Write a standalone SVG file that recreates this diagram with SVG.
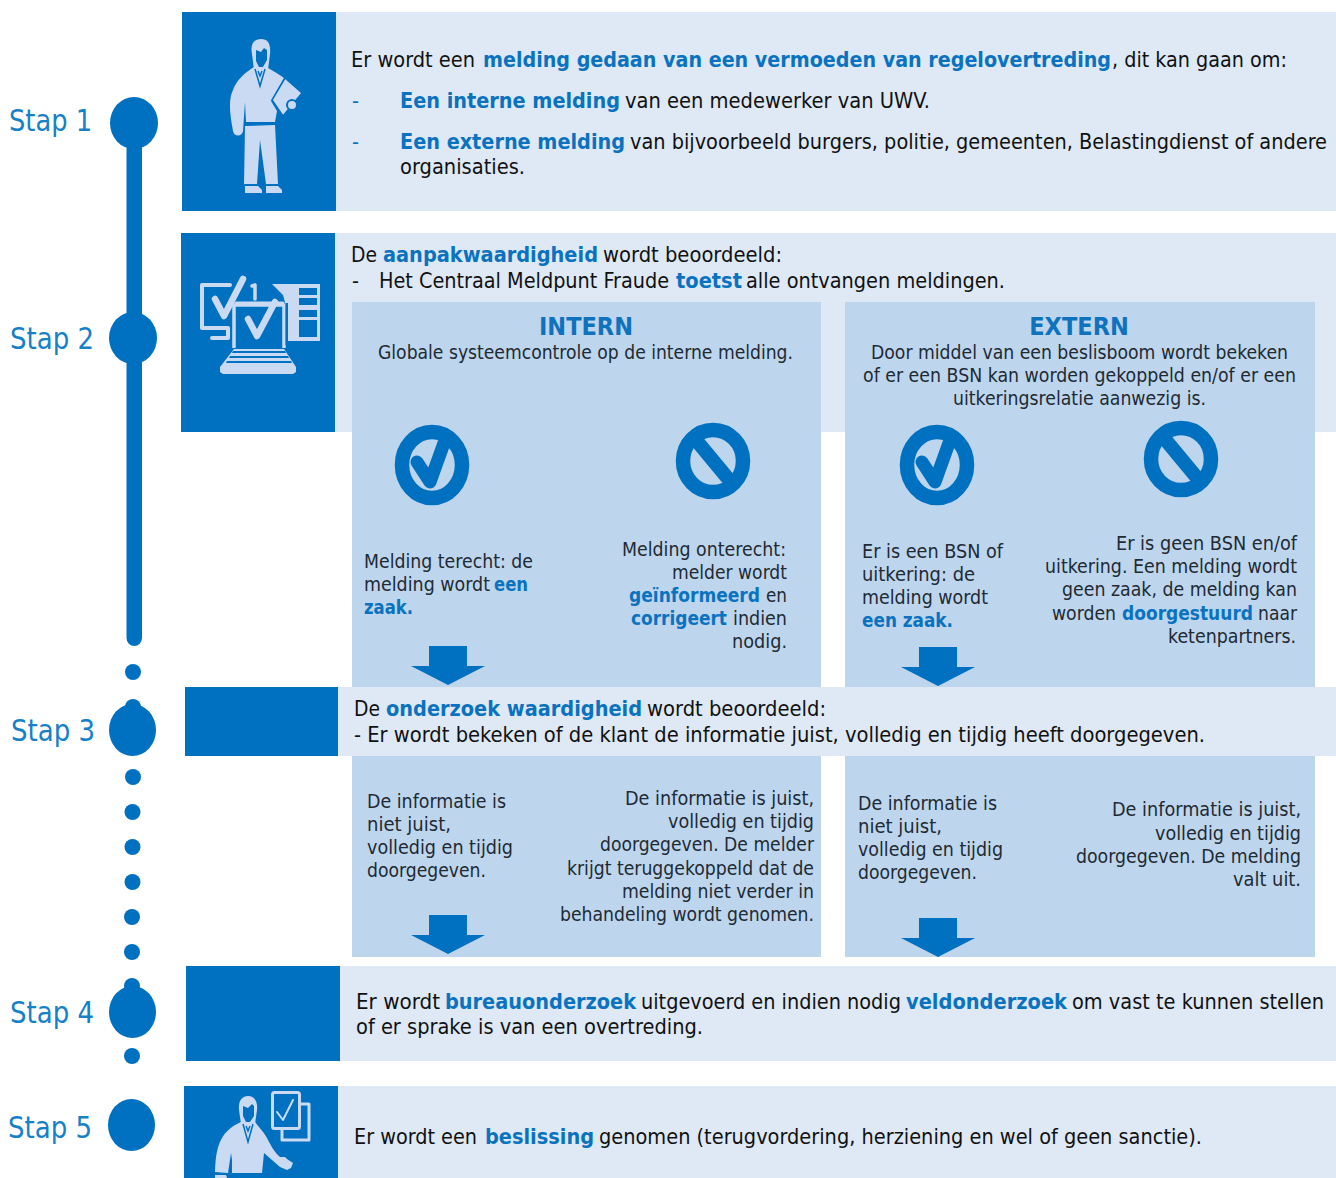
<svg xmlns="http://www.w3.org/2000/svg" width="1336" height="1178" viewBox="0 0 1336 1178">
<style>
text{font-family:"DejaVu Sans Condensed","DejaVu Sans","Liberation Sans",sans-serif;fill:#111;font-size:21.500px}
.p text{font-size:19.500px;fill:#1f2a33}
text.b,.p text.b{font-weight:700;fill:#0a72bf}
.p text.h{font-weight:700;font-size:25px;fill:#0f72bd;text-anchor:middle}
text.s{font-size:30px;fill:#1680c8}
.d{fill:#0070c0}.l{fill:#dee9f5}.m{fill:#bdd6ee}.i{fill:#cbdaf3}
.is{fill:none;stroke:#cbdaf3;stroke-linecap:round;stroke-linejoin:round}
.t{fill:none;stroke:#0070c0;stroke-width:1.500}
.ring{fill:none;stroke:#0070c0;stroke-width:14.500}
.mk{fill:none;stroke:#0070c0;stroke-width:13;stroke-linecap:round;stroke-linejoin:round}
</style>
<defs>
<g id="check"><ellipse class="ring" rx="30" ry="33"/><path class="mk" d="M-15-3L-2 17L12-22"/></g>
<g id="no"><ellipse class="ring" rx="30" ry="31"/><path d="M-17-21L17 20" fill="none" stroke="#0070c0" stroke-width="14"/></g>
<path id="arrow" class="d" d="M-19 0H19V20H37L0 39L-37 20H-19Z"/>
</defs>

<g id="connectors">
<rect class="d" x="126.500" y="140" width="15.500" height="506" rx="8"/>
<circle class="d" cx="133" cy="672" r="8"/><circle class="d" cx="133" cy="707" r="8"/>
<circle class="d" cx="133" cy="777" r="8"/><circle class="d" cx="132.500" cy="812" r="8"/><circle class="d" cx="132.500" cy="847" r="8"/><circle class="d" cx="132.500" cy="882" r="8"/><circle class="d" cx="132" cy="917" r="8"/><circle class="d" cx="132" cy="952" r="8"/><circle class="d" cx="132" cy="986" r="8"/><circle class="d" cx="132" cy="1056" r="8"/>
</g>

<g id="stap1"><text class="s" x="9" y="131" textLength="83" lengthAdjust="spacingAndGlyphs">Stap 1</text><ellipse class="d" cx="134" cy="123" rx="24" ry="26"/></g>
<g id="stap2"><text class="s" x="10" y="349" textLength="84" lengthAdjust="spacingAndGlyphs">Stap 2</text><ellipse class="d" cx="133" cy="338" rx="24" ry="26"/></g>
<g id="stap3"><text class="s" x="11" y="741" textLength="84" lengthAdjust="spacingAndGlyphs">Stap 3</text><ellipse class="d" cx="132.500" cy="730" rx="23.500" ry="26"/></g>
<g id="stap4"><text class="s" x="10" y="1023" textLength="84" lengthAdjust="spacingAndGlyphs">Stap 4</text><ellipse class="d" cx="132.500" cy="1012" rx="23.500" ry="26"/></g>
<g id="stap5"><text class="s" x="8" y="1138" textLength="84" lengthAdjust="spacingAndGlyphs">Stap 5</text><ellipse class="d" cx="131.500" cy="1125" rx="23.500" ry="26"/></g>

<g id="panel-2-bg"><rect class="l" x="335" y="233" width="1001" height="199"/><rect class="d" x="181" y="233" width="154" height="199"/></g>
<g id="panel-intern"><rect class="m" x="352" y="302" width="469" height="385"/><rect class="m" x="352" y="756" width="469" height="201"/></g>
<g id="panel-extern"><rect class="m" x="845" y="302" width="470" height="385"/><rect class="m" x="845" y="756" width="470" height="201"/></g>

<g id="node1">
<rect class="l" x="336" y="12" width="1000" height="199"/><rect class="d" x="182" y="12" width="154" height="199"/>
<g id="icon-person">
<path class="i" d="M252 54C250 44 254 39 261 39C268 39 271 44 270 54L268 70H254Z"/>
<path class="d" d="M256 50L261 52L264 48L267 50L267 60L263 67L259 67L256 61Z"/>
<path class="i" d="M254 67H266C273 71 279 74 284 78L271 101L277 111L275 122L246 122L245 102L243 131C242 137 234 137 233 131C230 115 228 100 233 90C237 79 246 72 254 67Z"/>
<path class="t" d="M255 69L260 86L265 69M258 71L260 76L262 71"/>
<path class="i" d="M245 126L275 125L278 184L266 184L260 140L257 184L244 184Z"/>
<path class="i" d="M245 186H258L262 190V193H245ZM266 186H278L282 190V193H266Z"/>
<path class="i" d="M285 78L302 93L283 116L272 100Z" stroke="#0070c0" stroke-width="1.500"/>
<circle cx="292" cy="105" r="5" fill="#cbdaf3" stroke="#0070c0" stroke-width="2"/>
</g>
<text x="351" y="67" textLength="124" lengthAdjust="spacingAndGlyphs">Er wordt een</text>
<text class="b" x="483" y="67" textLength="628" lengthAdjust="spacingAndGlyphs">melding gedaan van een vermoeden van regelovertreding</text>
<text x="1112" y="67" textLength="175" lengthAdjust="spacingAndGlyphs">, dit kan gaan om:</text>
<text class="b" x="352" y="108" style="font-weight:400">-</text>
<text class="b" x="400" y="108" textLength="220" lengthAdjust="spacingAndGlyphs">Een interne melding</text>
<text x="625" y="108" textLength="305" lengthAdjust="spacingAndGlyphs">van een medewerker van UWV.</text>
<text class="b" x="352" y="149" style="font-weight:400">-</text>
<text class="b" x="400" y="149" textLength="225" lengthAdjust="spacingAndGlyphs">Een externe melding</text>
<text x="630" y="149" textLength="697" lengthAdjust="spacingAndGlyphs">van bijvoorbeeld burgers, politie, gemeenten, Belastingdienst of andere</text>
<text x="400" y="174" textLength="125" lengthAdjust="spacingAndGlyphs">organisaties.</text>
</g>

<g id="node2">
<g id="icon-check-computer">
<path class="is" stroke-width="4" d="M230 285H202V328H228M228 328V338H212"/>
<path class="is" stroke-width="6.500" d="M215 299L224 316L243 279"/>
<path class="is" stroke-width="3.500" d="M252 286L255 285V299"/>
<path class="is" stroke-width="3" d="M236 303H283"/>
<path class="i" d="M272 284H320V341H287V310L283 295Z"/>
<path class="d" d="M299 288H317V295H299ZM299 298H317V305H299ZM299 310H317V317H299ZM299 320H317V337H299Z"/>
<path class="is" stroke-width="3.500" d="M234 348V305H284V348" style="stroke-linecap:butt"/>
<path class="d" d="M285.500 303H288V345H285.500Z"/>
<path class="is" stroke-width="6.500" d="M248 319L257 336L275 302"/>
<path class="i" d="M234 349H284L296 367V372L293 374H223L220 372V367Z"/>
<path class="d" d="M233 351H285L286 353H232ZM230 356H288L289 358H229ZM227 361H291L292 363H226Z"/>
</g>
<text x="351" y="262" textLength="26" lengthAdjust="spacingAndGlyphs">De</text>
<text class="b" x="383" y="262" textLength="215" lengthAdjust="spacingAndGlyphs">aanpakwaardigheid</text>
<text x="603" y="262" textLength="179" lengthAdjust="spacingAndGlyphs">wordt beoordeeld:</text>
<text x="352" y="288">-</text>
<text x="379" y="288" textLength="290" lengthAdjust="spacingAndGlyphs">Het Centraal Meldpunt Fraude</text>
<text class="b" x="676" y="288" textLength="66" lengthAdjust="spacingAndGlyphs">toetst</text>
<text x="746" y="288" textLength="259" lengthAdjust="spacingAndGlyphs">alle ontvangen meldingen.</text>
</g>

<g id="intern" class="p">
<text class="h" x="586" y="335">INTERN</text>
<text x="378" y="359" textLength="415" lengthAdjust="spacingAndGlyphs">Globale systeemcontrole op de interne melding.</text>
<use href="#check" x="432" y="465"/><use href="#no" x="713" y="461"/>
<text x="364" y="568" textLength="169" lengthAdjust="spacingAndGlyphs">Melding terecht: de</text>
<text x="364" y="591" textLength="126" lengthAdjust="spacingAndGlyphs">melding wordt</text>
<text class="b" x="494" y="591" textLength="34" lengthAdjust="spacingAndGlyphs">een</text>
<text class="b" x="364" y="614" textLength="49" lengthAdjust="spacingAndGlyphs">zaak.</text>
<text x="622" y="556" textLength="164" lengthAdjust="spacingAndGlyphs">Melding onterecht:</text>
<text x="672" y="579" textLength="115" lengthAdjust="spacingAndGlyphs">melder wordt</text>
<text class="b" x="629" y="602" textLength="131" lengthAdjust="spacingAndGlyphs">geïnformeerd</text>
<text x="766" y="602" textLength="21" lengthAdjust="spacingAndGlyphs">en</text>
<text class="b" x="631" y="625" textLength="96" lengthAdjust="spacingAndGlyphs">corrigeert</text>
<text x="733" y="625" textLength="54" lengthAdjust="spacingAndGlyphs">indien</text>
<text x="732" y="648" textLength="55" lengthAdjust="spacingAndGlyphs">nodig.</text>
<use href="#arrow" x="448" y="646"/>
</g>

<g id="extern" class="p">
<text class="h" x="1079" y="335">EXTERN</text>
<text x="871" y="359" textLength="417" lengthAdjust="spacingAndGlyphs">Door middel van een beslisboom wordt bekeken</text>
<text x="863" y="382" textLength="433" lengthAdjust="spacingAndGlyphs">of er een BSN kan worden gekoppeld en/of er een</text>
<text x="953" y="405" textLength="253" lengthAdjust="spacingAndGlyphs">uitkeringsrelatie aanwezig is.</text>
<use href="#check" x="937" y="465"/><use href="#no" x="1181" y="459"/>
<text x="862" y="558" textLength="141" lengthAdjust="spacingAndGlyphs">Er is een BSN of</text>
<text x="862" y="581" textLength="113" lengthAdjust="spacingAndGlyphs">uitkering: de</text>
<text x="862" y="604" textLength="126" lengthAdjust="spacingAndGlyphs">melding wordt</text>
<text class="b" x="862" y="627" textLength="91" lengthAdjust="spacingAndGlyphs">een zaak.</text>
<text x="1116" y="550" textLength="181" lengthAdjust="spacingAndGlyphs">Er is geen BSN en/of</text>
<text x="1045" y="573" textLength="252" lengthAdjust="spacingAndGlyphs">uitkering. Een melding wordt</text>
<text x="1062" y="596" textLength="235" lengthAdjust="spacingAndGlyphs">geen zaak, de melding kan</text>
<text x="1052" y="620" textLength="64" lengthAdjust="spacingAndGlyphs">worden</text>
<text class="b" x="1122" y="620" textLength="131" lengthAdjust="spacingAndGlyphs">doorgestuurd</text>
<text x="1258" y="620" textLength="39" lengthAdjust="spacingAndGlyphs">naar</text>
<text x="1168" y="643" textLength="128" lengthAdjust="spacingAndGlyphs">ketenpartners.</text>
<use href="#arrow" x="938" y="647"/>
</g>

<g id="node3">
<rect class="l" x="338" y="687" width="998" height="69"/><rect class="d" x="185" y="687" width="153" height="69"/>
<text x="354" y="716" textLength="26" lengthAdjust="spacingAndGlyphs">De</text>
<text class="b" x="386" y="716" textLength="256" lengthAdjust="spacingAndGlyphs">onderzoek waardigheid</text>
<text x="647" y="716" textLength="179" lengthAdjust="spacingAndGlyphs">wordt beoordeeld:</text>
<text x="354" y="742" textLength="851" lengthAdjust="spacingAndGlyphs">- Er wordt bekeken of de klant de informatie juist, volledig en tijdig heeft doorgegeven.</text>
</g>

<g id="intern-3" class="p">
<text x="367" y="808" textLength="139" lengthAdjust="spacingAndGlyphs">De informatie is</text>
<text x="367" y="831" textLength="84" lengthAdjust="spacingAndGlyphs">niet juist,</text>
<text x="367" y="854" textLength="146" lengthAdjust="spacingAndGlyphs">volledig en tijdig</text>
<text x="367" y="877" textLength="119" lengthAdjust="spacingAndGlyphs">doorgegeven.</text>
<text x="625" y="805" textLength="189" lengthAdjust="spacingAndGlyphs">De informatie is juist,</text>
<text x="668" y="828" textLength="146" lengthAdjust="spacingAndGlyphs">volledig en tijdig</text>
<text x="600" y="851" textLength="214" lengthAdjust="spacingAndGlyphs">doorgegeven. De melder</text>
<text x="567" y="875" textLength="247" lengthAdjust="spacingAndGlyphs">krijgt teruggekoppeld dat de</text>
<text x="622" y="898" textLength="192" lengthAdjust="spacingAndGlyphs">melding niet verder in</text>
<text x="560" y="921" textLength="254" lengthAdjust="spacingAndGlyphs">behandeling wordt genomen.</text>
<use href="#arrow" x="448" y="915"/>
</g>

<g id="extern-3" class="p">
<text x="858" y="810" textLength="139" lengthAdjust="spacingAndGlyphs">De informatie is</text>
<text x="858" y="833" textLength="84" lengthAdjust="spacingAndGlyphs">niet juist,</text>
<text x="858" y="856" textLength="145" lengthAdjust="spacingAndGlyphs">volledig en tijdig</text>
<text x="858" y="879" textLength="119" lengthAdjust="spacingAndGlyphs">doorgegeven.</text>
<text x="1112" y="816" textLength="189" lengthAdjust="spacingAndGlyphs">De informatie is juist,</text>
<text x="1155" y="840" textLength="146" lengthAdjust="spacingAndGlyphs">volledig en tijdig</text>
<text x="1076" y="863" textLength="225" lengthAdjust="spacingAndGlyphs">doorgegeven. De melding</text>
<text x="1233" y="886" textLength="68" lengthAdjust="spacingAndGlyphs">valt uit.</text>
<use href="#arrow" x="938" y="918"/>
</g>

<g id="node4">
<rect class="l" x="340" y="966" width="996" height="95"/><rect class="d" x="186" y="966" width="154" height="95"/>
<text x="356" y="1009" textLength="84" lengthAdjust="spacingAndGlyphs">Er wordt</text>
<text class="b" x="445" y="1009" textLength="191" lengthAdjust="spacingAndGlyphs">bureauonderzoek</text>
<text x="641" y="1009" textLength="260" lengthAdjust="spacingAndGlyphs">uitgevoerd en indien nodig</text>
<text class="b" x="906" y="1009" textLength="161" lengthAdjust="spacingAndGlyphs">veldonderzoek</text>
<text x="1072" y="1009" textLength="252" lengthAdjust="spacingAndGlyphs">om vast te kunnen stellen</text>
<text x="356" y="1034" textLength="347" lengthAdjust="spacingAndGlyphs">of er sprake is van een overtreding.</text>
</g>

<g id="node5">
<rect class="l" x="338" y="1086" width="998" height="92"/><rect class="d" x="184" y="1086" width="154" height="92"/>
<g id="icon-decision">
<path class="i" d="M239 1110C238 1101 242 1096 248 1096C254 1096 258 1101 257 1110L255 1124L241 1124Z"/>
<path class="d" d="M243 1106L248 1108L252 1104L254 1106L254 1116L250 1122H246L243 1116Z"/>
<path class="i" d="M241 1122H255C258 1126 263 1131 267 1138C271 1146 275 1153 280 1157H285L287 1159L293 1163L291 1168L287 1170L280 1167L264 1153L262 1173H232V1160L231 1153L228 1173L215 1172C216 1150 218 1132 241 1122Z"/>
<path class="t" d="M243 1124L248 1142L253 1124M246 1126L248 1131L250 1126"/>
<path class="i" d="M215 1175H226L227 1178H215Z"/>
<path class="is" stroke-width="3" d="M282 1129V1140H309V1104H300"/>
<rect class="is" x="272.500" y="1092.500" width="27" height="36" rx="2" stroke-width="3"/>
<path class="is" stroke-width="2" d="M277 1112L283 1120L293 1100"/>
</g>
<text x="354" y="1144" textLength="123" lengthAdjust="spacingAndGlyphs">Er wordt een</text>
<text class="b" x="485" y="1144" textLength="109" lengthAdjust="spacingAndGlyphs">beslissing</text>
<text x="599" y="1144" textLength="603" lengthAdjust="spacingAndGlyphs">genomen (terugvordering, herziening en wel of geen sanctie).</text>
</g>
</svg>
